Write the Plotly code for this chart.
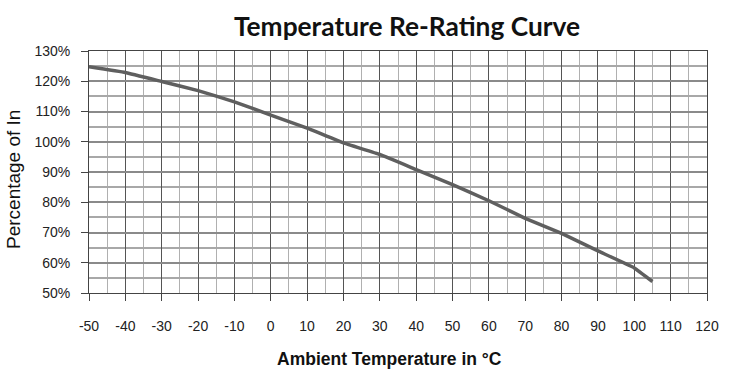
import plotly.graph_objects as go

temps = [-50, -40, -30, -20, -10, 0, 10, 20, 30, 40, 50, 60, 70, 80, 90, 100, 105]
percent = [124.8, 122.9, 119.9, 116.9, 113.2, 108.8, 104.5, 99.6, 95.8, 90.8, 85.8, 80.5, 74.7, 69.7, 63.9, 58.3, 53.8]

x_ticks = list(range(-50, 121, 10))
y_ticks = list(range(50, 131, 10))

FONT = "Arial, Liberation Sans, sans-serif"

fig = go.Figure()
fig.add_trace(go.Scatter(x=temps, y=percent, mode="lines",
                         line=dict(color="#5f5f5f", width=3.5, shape="spline", smoothing=0.25),
                         showlegend=False, hoverinfo="skip"))

L, R, T, B = 89, 26, 51, 78
W, H = 733, 371
pw, ph = W - L - R, H - T - B

fig.update_layout(
    width=W, height=H,
    margin=dict(l=L, r=R, t=T, b=B, autoexpand=False),
    paper_bgcolor="white", plot_bgcolor="white",
    title=dict(text="<b>Temperature Re-Rating Curve</b>", x=407 / W, xanchor="center",
               y=1 - 27 / H, yanchor="middle",
               font=dict(family="Lato", size=26.3, color="#111111")),
    xaxis=dict(range=[-50, 120], tickvals=x_ticks, ticktext=[str(v) for v in x_ticks],
               ticks="outside", ticklen=7, tickcolor="#444444", tickwidth=1,
               showline=True, linecolor="#444444", linewidth=1, mirror=True,
               showgrid=True, gridcolor="#555555", gridwidth=1,
               minor=dict(dtick=5, tick0=-50, showgrid=True, gridcolor="#b0b0b0", gridwidth=1),
               ticklabelstandoff=13,
               tickfont=dict(family=FONT, size=14, color="#222222"),
               zeroline=False),
    yaxis=dict(range=[50, 130], tickvals=y_ticks, ticktext=[f"{v}%" for v in y_ticks],
               ticks="outside", ticklen=7, tickcolor="#444444", tickwidth=1,
               showline=True, linecolor="#444444", linewidth=1, mirror=True,
               showgrid=True, gridcolor="#8a8a8a", gridwidth=2,
               minor=dict(dtick=5, tick0=50, showgrid=True, gridcolor="#a8a8a8", gridwidth=1.5),
               ticklabelstandoff=8,
               tickfont=dict(family=FONT, size=14, color="#222222"),
               zeroline=False),
    annotations=[
        dict(text="<b>Ambient Temperature in °C</b>", xref="paper", yref="paper",
             x=(389 - L) / pw, y=(T + ph - 359) / ph, xanchor="center", yanchor="middle",
             showarrow=False, font=dict(family=FONT, size=17.5, color="#111111")),
        dict(text="Percentage of In", xref="paper", yref="paper", textangle=-90,
             x=(13 - L) / pw, y=(T + ph - 180) / ph, xanchor="center", yanchor="middle",
             showarrow=False, font=dict(family=FONT, size=19, color="#111111")),
    ],
)

fig.write_html("out.html", config={"displayModeBar": False},
               post_script="document.body.style.margin='0';document.body.style.padding='0';")
